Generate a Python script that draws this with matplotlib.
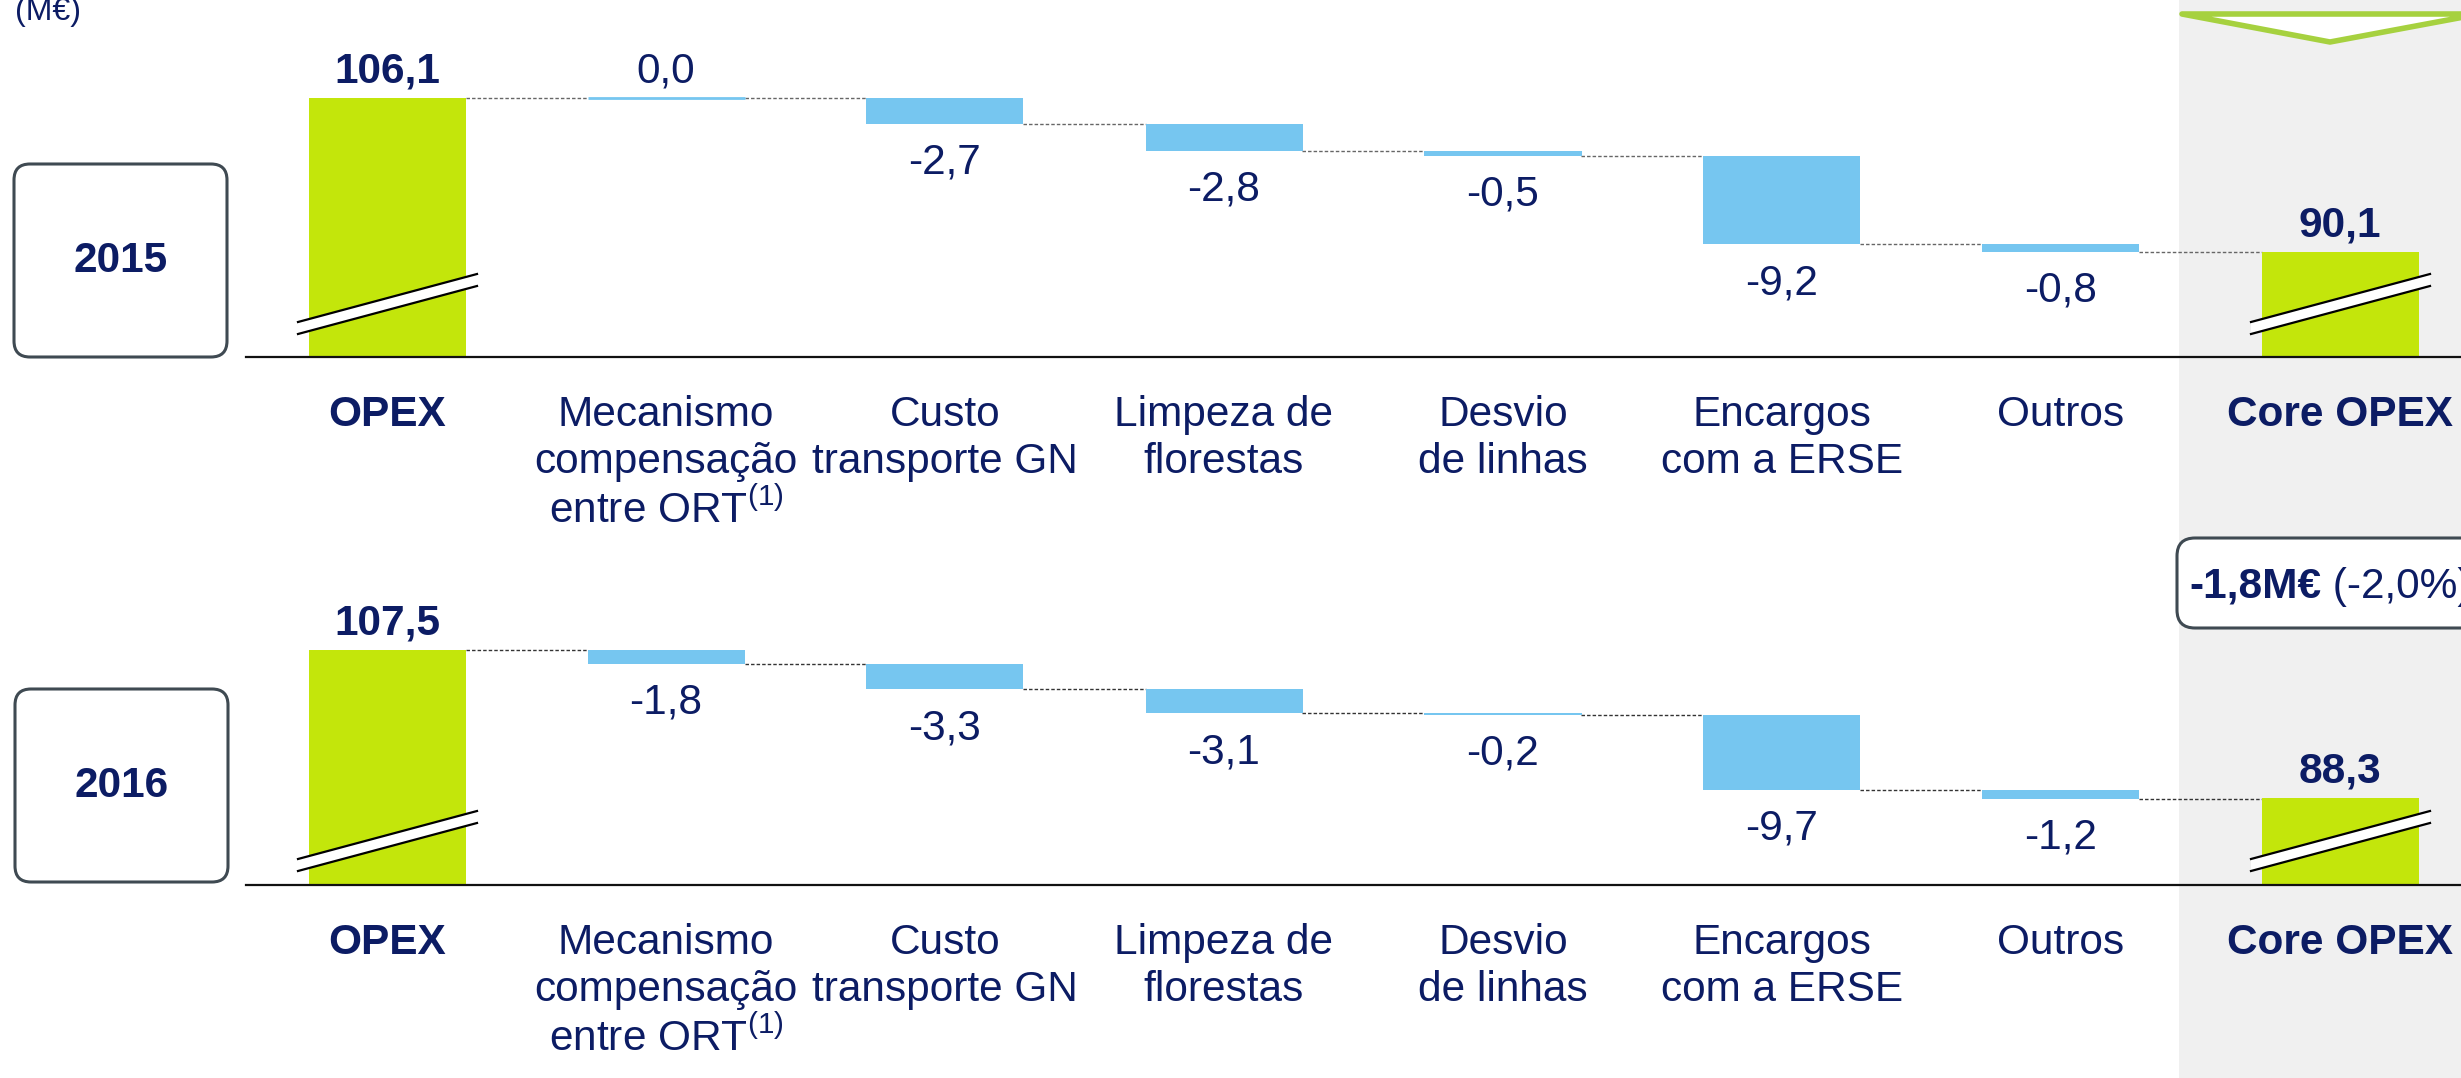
import matplotlib.pyplot as plt
from matplotlib.patches import FancyBboxPatch, Polygon, Rectangle
from matplotlib.text import Annotation
from matplotlib.transforms import Affine2D

plt.rcParams['font.family'] = 'Liberation Sans'
plt.rcParams['mathtext.fontset'] = 'custom'
plt.rcParams['mathtext.rm'] = 'Liberation Sans'
plt.rcParams['mathtext.it'] = 'Liberation Sans:italic'
plt.rcParams['mathtext.bf'] = 'Liberation Sans:bold'

# data
categories = ['OPEX', 'Mecanismo\ncompensação\nentre ORT$^{(1)}$', 'Custo\ntransporte GN',
              'Limpeza de\nflorestas', 'Desvio\nde linhas', 'Encargos\ncom a ERSE', 'Outros', 'Core OPEX']
years = ['2015', '2016']
opex = [106.1, 107.5]
core_opex = [90.1, 88.3]
deltas_2015 = [0.0, -2.7, -2.8, -0.5, -9.2, -0.8]
deltas_2016 = [-1.8, -3.3, -3.1, -0.2, -9.7, -1.2]
change_abs = '-1,8M€'
change_pct = ' (-2,0%)'
unit_label = '(M€)'

# style
W, H = 2461, 1078
NAVY = '#0c1c64'
GREEN = '#c3e60b'
BLUE = '#76c6f0'
EDGE = '#3f4a52'
STEP = 279          # px between categories
X0 = 387            # px of first category centre
BW = 157 / STEP     # bar width in category units
FS = 30.5

fig = plt.figure(figsize=(W / 100, H / 100), dpi=100)
# reference-pixel transform (origin top-left)
T = Affine2D().scale(1 / 100, -1 / 100).translate(0, H / 100) + fig.dpi_scale_trans


def fmt(v):
    return f'{v:.1f}'.replace('.', ',')


def draw_panel(top_px, base_px, ylim, start, deltas, end, lift, dash_color):
    ax = fig.add_axes([0, 1 - base_px / H, 1, (base_px - top_px) / H])
    ax.set_xlim(-X0 / STEP, (W - X0) / STEP)
    ax.set_ylim(*ylim)
    ax.axis('off')
    y0 = ylim[0]
    ppy = (base_px - top_px) / (ylim[1] - ylim[0])
    n = len(categories)

    # totals
    ax.bar([0, n - 1], [start, end], width=BW, color=GREEN, zorder=2)
    for xi, v in ((0, start), (n - 1, end)):
        ax.annotate(fmt(v), (xi, v), xytext=(0, 11), textcoords='offset points',
                    ha='center', va='baseline', fontsize=FS, fontweight='bold', color=NAVY)

    # steps
    running = start
    levels = [start]
    for i, d in enumerate(deltas, start=1):
        if d == 0:
            ax.bar(i, 0, bottom=running, width=BW, color=BLUE, edgecolor=BLUE, linewidth=2, zorder=2)
            ax.annotate(fmt(d), (i, running), xytext=(0, 11), textcoords='offset points',
                        ha='center', va='baseline', fontsize=FS, color=NAVY)
        else:
            ax.bar(i, abs(d), bottom=min(running, running + d), width=BW, color=BLUE, zorder=2)
            ax.annotate(fmt(d), (i, min(running, running + d)), xytext=(0, -36),
                        textcoords='offset points', ha='center', va='baseline',
                        fontsize=FS, color=NAVY)
        running += d
        levels.append(running)

    # connectors
    for i, lev in enumerate(levels):
        ax.plot([i + BW / 2, i + 1 - BW / 2], [lev, lev], ls=(0, (2.5, 1.5)),
                color=dash_color, lw=1.0, zorder=1)

    # baseline
    ax.plot([(246 - X0) / STEP, (W - X0) / STEP], [y0, y0], color='#111111', lw=1.6,
            clip_on=False, zorder=5)

    # axis-break marks on total bars
    for xc in (0, n - 1):
        xl, xr = xc - 89 / STEP, xc + 90 / STEP
        ya, yb = y0 + lift / ppy, y0 + (lift + 48) / ppy
        g = 12 / ppy
        ax.add_patch(Polygon([(xl, ya), (xr, yb), (xr, yb + g), (xl, ya + g)],
                             closed=True, fc='white', ec='none', zorder=3, clip_on=False))
        ax.plot([xl, xr], [ya, yb], color='black', lw=1.6, zorder=4, clip_on=False)
        ax.plot([xl, xr], [ya + g, yb + g], color='black', lw=1.6, zorder=4, clip_on=False)

    # category labels
    for i, lab in enumerate(categories):
        bold = i in (0, n - 1)
        ax.text(i, y0 - 38 / ppy, lab, ha='center', va='top', fontsize=FS, color=NAVY,
                fontweight='bold' if bold else 'normal', linespacing=1.22, clip_on=False)
    return ax


# background highlight for Core OPEX column
fig.add_artist(Rectangle((2179, -10), 320, H + 20, transform=T, fc='#f0f0f0', ec='none', zorder=-1))

ax1 = draw_panel(0, 357, (79.19, 116.28), opex[0], deltas_2015, core_opex[0], 23, '#666666')
ax2 = draw_panel(540, 885, (77.01, 121.77), opex[1], deltas_2016, core_opex[1], 14, '#333333')

# year boxes
for (bx, by), yr in zip([(14, 164), (15, 689)], years):
    fig.add_artist(FancyBboxPatch((bx, by), 213, 193, boxstyle='round,pad=0,rounding_size=16',
                                  transform=T, fc='white', ec=EDGE, lw=2.2, zorder=2))
    fig.text(bx + 107, by + 97, yr, transform=T, ha='center', va='center', fontsize=FS,
             fontweight='bold', color=NAVY, zorder=3)

# triangle marker at top of highlight
fig.add_artist(Polygon([(2182, 14), (2330, 42), (2480, 14)], closed=True, transform=T,
                       fc='white', ec='#a6d13f', lw=4, joinstyle='round', zorder=2))

# change box
fig.add_artist(FancyBboxPatch((2177, 538), 330, 90, boxstyle='round,pad=0,rounding_size=18',
                              transform=T, fc='white', ec=EDGE, lw=2.2, zorder=2))
t1 = fig.text(2189, 598, change_abs, transform=T, ha='left', va='baseline', fontsize=FS,
              fontweight='bold', color=NAVY, zorder=3)
fig.add_artist(Annotation(change_pct, xy=(1, 0), xycoords=t1, ha='left', va='bottom',
                          fontsize=FS, color=NAVY, annotation_clip=False, zorder=4))

fig.text(15, 20, unit_label, transform=T, ha='left', va='baseline', fontsize=23, color=NAVY)

fig.savefig('out.png', dpi=100)
